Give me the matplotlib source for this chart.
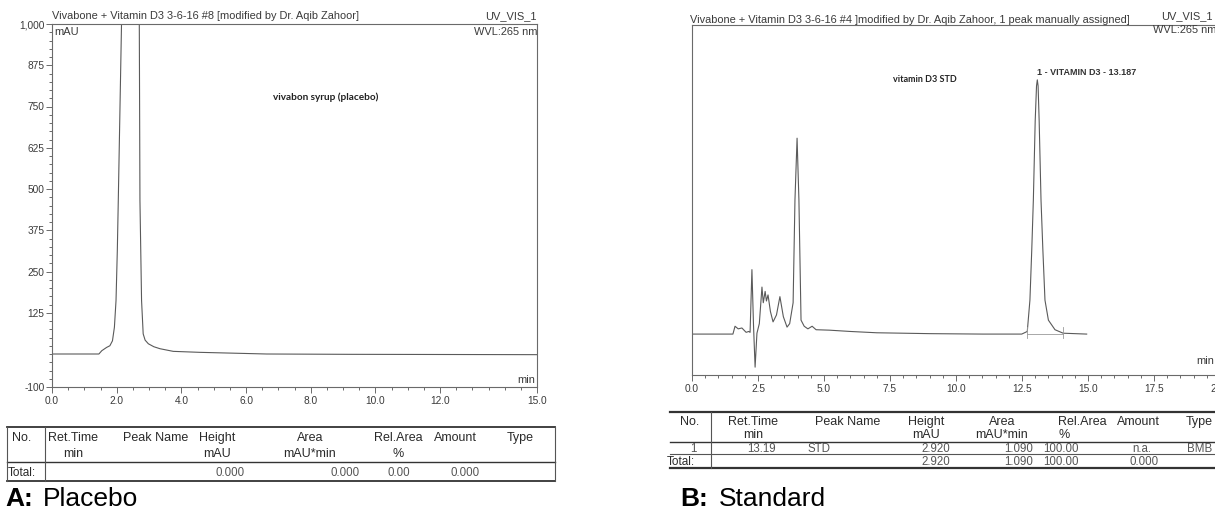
import matplotlib
matplotlib.use("Agg")
import matplotlib.pyplot as plt
from matplotlib.ticker import FixedLocator, MultipleLocator, FuncFormatter
from matplotlib.lines import Line2D

plt.rcParams['font.family'] = ['Liberation Sans', 'DejaVu Sans']

W, H = 1215, 515
TXT = '#3a3a3a'
LINE = '#5a5a5a'

# --- panel A: placebo trace (min, mAU), main peak runs off scale
a_time = [0.0, 1.45, 1.54, 1.69, 1.79, 1.87, 1.93, 1.98, 2.02, 2.05, 2.15, 2.25,
          2.42, 2.58, 2.70, 2.72, 2.77, 2.82, 2.88, 2.98, 3.15, 3.34, 3.75,
          4.58, 6.64, 9.2, 15.0]
a_mau = [0, 0, 10, 20, 25, 40, 81, 162, 313, 465, 1000, 1250,
         1450, 1250, 1000, 465, 162, 61, 42, 31, 22, 16, 8,
         5, 0, -1, -2]
a_yticks = [-100, 125, 250, 375, 500, 625, 750, 875, 1000]
a_xticks = [0, 2, 4, 6, 8, 10, 12, 15]

# --- panel B: vitamin D3 standard trace (min, mAU)
b_time = [0.0, 1.55, 1.63, 1.75, 1.89, 2.05, 2.15, 2.20, 2.27, 2.33, 2.39, 2.46,
          2.55, 2.65, 2.70, 2.77, 2.82, 2.88, 2.97, 3.07, 3.20, 3.33, 3.46, 3.60,
          3.70, 3.83, 3.90, 3.98, 4.05, 4.13, 4.25, 4.39, 4.55, 4.70, 5.2, 6.0,
          7.0, 9.0, 11.0, 12.49, 12.70, 12.80, 12.87, 12.93, 13.00, 13.05, 13.08,
          13.11, 13.15, 13.22, 13.29, 13.37, 13.50, 13.75, 14.06, 14.95]
b_mau = [0, 0, 0.09, 0.06, 0.07, 0.02, 0.03, 0.02, 0.74, 0.10, -0.38, 0.01,
         0.12, 0.54, 0.36, 0.49, 0.38, 0.45, 0.26, 0.14, 0.22, 0.43, 0.20, 0.08,
         0.12, 0.36, 1.54, 2.25, 1.54, 0.16, 0.09, 0.06, 0.09, 0.05, 0.045, 0.03,
         0.015, 0.005, 0.0, 0.0, 0.03, 0.39, 0.97, 1.54, 2.45, 2.85, 2.92,
         2.85, 2.45, 1.54, 0.97, 0.39, 0.16, 0.05, 0.01, 0.0]
b_peak_apex = (13.08, 2.92)
b_peak_bounds = [12.70, 14.06]
b_xticks = [0, 2.5, 5, 7.5, 10, 12.5, 15, 17.5, 20]

# --- tables
a_header1 = ['No.', 'Ret.Time', 'Peak Name', 'Height', 'Area', 'Rel.Area', 'Amount', 'Type']
a_header2 = ['', 'min', '', 'mAU', 'mAU*min', '%', '', '']
a_total = ['Total:', '', '', '0.000', '0.000', '0.00', '0.000', '']

b_header1 = ['No.', 'Ret.Time', 'Peak Name', 'Height', 'Area', 'Rel.Area', 'Amount', 'Type']
b_header2 = ['', 'min', '', 'mAU', 'mAU*min', '%', '', '']
b_row1 = ['1', '13.19', 'STD', '2.920', '1.090', '100.00', 'n.a.', 'BMB']
b_total = ['Total:', '', '', '2.920', '1.090', '100.00', '0.000', '']


def fx(x):
    return x / W


def fy(y):
    return 1 - y / H


def ptext(x, y, s, **kw):
    kw.setdefault('color', TXT)
    kw.setdefault('va', 'center')
    fig.text(fx(x), fy(y), s, **kw)


def hline(x0, x1, y, lw=1.0, color='#333333'):
    fig.add_artist(Line2D([fx(x0), fx(x1)], [fy(y), fy(y)], lw=lw, color=color))


def vline(x, y0, y1, lw=0.8, color='#555555'):
    fig.add_artist(Line2D([fx(x), fx(x)], [fy(y0), fy(y1)], lw=lw, color=color))


def style_axes(ax):
    for sp in ax.spines.values():
        sp.set_color('#6a6a6a')
        sp.set_linewidth(0.8)
    ax.tick_params(which='both', colors='#6a6a6a', labelcolor=TXT, labelsize=7.3,
                   width=0.7)
    ax.tick_params(which='major', length=4)
    ax.tick_params(which='minor', length=2)


fig = plt.figure(figsize=(W / 100, H / 100), dpi=100)

# ---------------- panel A ----------------
ax_a = fig.add_axes([fx(52), fy(387), (537 - 52) / W, (387 - 24) / H])
ax_a.plot(a_time, a_mau, color=LINE, lw=0.8)
ax_a.set_xlim(0, 15)
ax_a.set_ylim(-100, 1000)
style_axes(ax_a)
ax_a.yaxis.set_major_locator(FixedLocator(a_yticks))
ax_a.yaxis.set_minor_locator(MultipleLocator(25))
ax_a.yaxis.set_major_formatter(FuncFormatter(lambda v, p: f'{v:,.0f}'))
ax_a.xaxis.set_major_locator(FixedLocator(a_xticks))
ax_a.xaxis.set_minor_locator(MultipleLocator(0.5))
ax_a.xaxis.set_major_formatter(FuncFormatter(lambda v, p: f'{v:.1f}'))
ax_a.tick_params(axis='y', pad=1.5)
ax_a.tick_params(axis='x', pad=2.5)

ptext(52, 16, 'Vivabone + Vitamin D3 3-6-16 #8 [modified by Dr. Aqib Zahoor]',
      fontsize=7.9, ha='left')
ptext(537, 16, 'UV_VIS_1', fontsize=7.9, ha='right')
ptext(538, 32, 'WVL:265 nm', fontsize=7.9, ha='right')
ptext(54, 32, 'mAU', fontsize=7.9, ha='left')
ptext(535, 380, 'min', fontsize=7.9, ha='right')
ptext(273, 97, 'vivabon syrup (placebo)', fontsize=7.2, ha='left',
      family='Lato', weight='bold', color='#222222')

# ---------------- panel B ----------------
ax_b = fig.add_axes([fx(692), fy(375), (1220 - 692) / W, (375 - 25) / H])
ax_b.plot(b_time, b_mau, color=LINE, lw=0.8)
ax_b.plot(b_peak_bounds, [0, 0], color='#9a9a9a', lw=0.6)
for t in b_peak_bounds:
    ax_b.plot([t, t], [-0.05, 0.08], color='#9a9a9a', lw=0.6)
ax_b.set_xlim(0, 20)
ax_b.set_ylim(-0.47, 3.55)
style_axes(ax_b)
ax_b.spines['right'].set_visible(False)
ax_b.set_yticks([])
ax_b.xaxis.set_major_locator(FixedLocator(b_xticks))
ax_b.xaxis.set_minor_locator(MultipleLocator(0.5))
ax_b.xaxis.set_major_formatter(FuncFormatter(lambda v, p: f'{v:.1f}'))
ax_b.tick_params(axis='x', pad=2.5)
ax_b.text(b_peak_apex[0], b_peak_apex[1] + 0.03, '1 - VITAMIN D3 - 13.187',
          fontsize=6.5, weight='bold', color='#333333', ha='left', va='bottom')

ptext(690, 20, 'Vivabone + Vitamin D3 3-6-16 #4 ]modified by Dr. Aqib Zahoor, '
      '1 peak manually assigned]', fontsize=7.9, ha='left')
ptext(1213, 16, 'UV_VIS_1', fontsize=7.9, ha='right')
ptext(1153, 30, 'WVL:265 nm', fontsize=7.9, ha='left')
ptext(1214, 361, 'min', fontsize=7.9, ha='right')
ptext(893, 80, 'vitamin D3 STD', fontsize=6.5, ha='left',
      family='Lato', weight='bold', color='#222222')

# ---------------- table A ----------------
hline(7, 555, 427, lw=1.3)
hline(7, 555, 462, lw=1.0)
hline(7, 555, 481, lw=1.3)
vline(7, 427, 481)
vline(45, 427, 481)
vline(555, 427, 481)
a_cols = [22, 73, 156, 217, 310, 398, 455, 520]
for x, h1, h2 in zip(a_cols, a_header1, a_header2):
    ptext(x, 438, h1, fontsize=9, ha='center', color='#2a2a2a')
    if h2:
        ptext(x, 454, h2, fontsize=9, ha='center', color='#2a2a2a')
ptext(8, 473, a_total[0], fontsize=8.5, ha='left', color='#2a2a2a')
a_val_x = [None, None, None, 245, 360, 410, 480, None]
for x, v in zip(a_val_x, a_total):
    if x is not None and v:
        ptext(x, 473, v, fontsize=8.3, ha='right', color='#555555')

# ---------------- table B ----------------
hline(670, 1215, 412, lw=1.6)
hline(670, 1215, 442, lw=1.0)
hline(670, 1215, 454, lw=0.8, color='#555555')
hline(670, 1215, 468, lw=1.6)
vline(711, 412, 468)
b_cols = [690, 753, 848, 926, 1002, 1082, 1138, 1199]
for x, h1, h2 in zip(b_cols, b_header1, b_header2):
    ptext(x, 422, h1, fontsize=9, ha='center', color='#2a2a2a')
    if h2:
        ptext(x if h2 != '%' else 1064, 435, h2, fontsize=9, ha='center',
              color='#2a2a2a')
b_val_x = [697, 776, 808, 950, 1033, 1079, 1151, 1187]
b_val_ha = ['right', 'right', 'left', 'right', 'right', 'right', 'right', 'left']
for x, ha, v in zip(b_val_x, b_val_ha, b_row1):
    ptext(x, 449, v, fontsize=8.3, ha=ha, color='#555555')
ptext(695, 462, b_total[0], fontsize=8.5, ha='right', color='#2a2a2a')
b_tot_x = [None, None, None, 950, 1033, 1079, 1159, None]
for x, v in zip(b_tot_x, b_total):
    if x is not None and v:
        ptext(x, 462, v, fontsize=8.3, ha='right', color='#555555')

# ---------------- captions ----------------
ptext(5, 499, 'A:', fontsize=19, weight='bold', color='black', ha='left')
ptext(43, 499, 'Placebo', fontsize=19, color='black', ha='left')
ptext(680, 499, 'B:', fontsize=19, weight='bold', color='black', ha='left')
ptext(719, 499, 'Standard', fontsize=19, color='black', ha='left')

fig.savefig('out.png', dpi=100, facecolor='white')
